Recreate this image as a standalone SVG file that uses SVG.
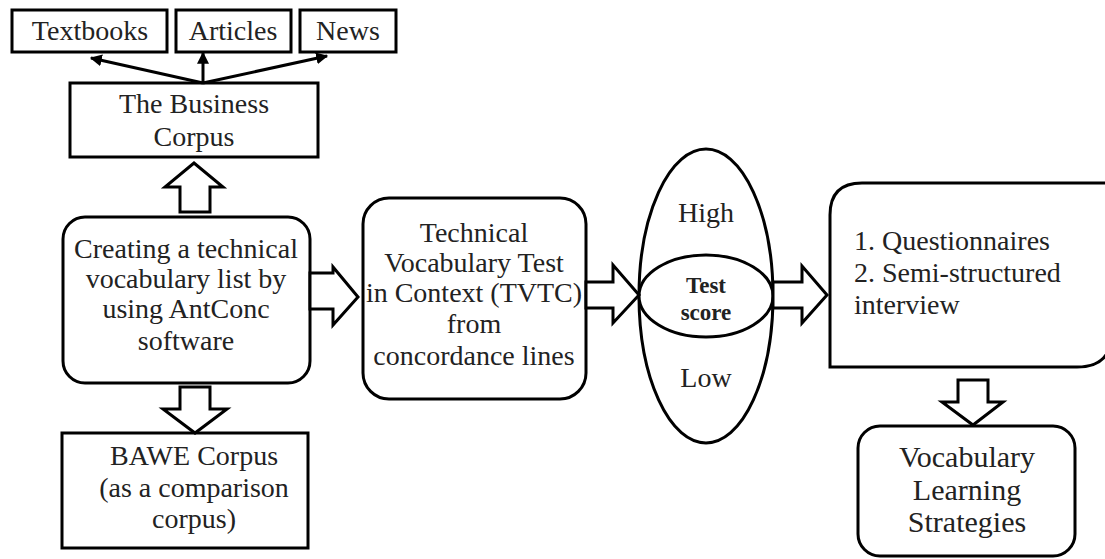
<svg xmlns="http://www.w3.org/2000/svg" width="1105" height="559" viewBox="0 0 1105 559">
<style>
.b{fill:#fff;stroke:#000;stroke-width:3}
text{font-family:'Liberation Serif','DejaVu Serif','Times New Roman',serif;font-size:28px;fill:#222;text-anchor:middle}
.l{text-anchor:start}
.bold{font-weight:bold;font-size:23px}
.big{font-size:30px}
.ln{stroke:#000;stroke-width:3;fill:none}
</style>
<defs>
<marker id="ah" viewBox="0 0 10 10" refX="9" refY="5" markerWidth="4" markerHeight="4" orient="auto" markerUnits="strokeWidth">
<path d="M0,0 L10,5 L0,10 z" fill="#000"/>
</marker>
</defs>
<g id="textbooks"><rect class="b" x="12" y="10" width="155" height="42"/><text x="90" y="40">Textbooks</text></g>
<g id="articles"><rect class="b" x="176" y="10" width="115" height="42"/><text x="233" y="40">Articles</text></g>
<g id="news"><rect class="b" x="300" y="10" width="96" height="42"/><text x="348" y="40">News</text></g>
<g id="business"><rect class="b" x="70" y="83" width="248" height="74"/><text x="194" y="113">The Business</text><text x="194" y="146">Corpus</text></g>
<g id="creating"><rect class="b" x="63" y="217" width="247" height="166" rx="22"/>
<text x="186" y="258">Creating a technical</text>
<text x="186" y="288">vocabulary list by</text>
<text x="186" y="318">using AntConc</text>
<text x="186" y="350">software</text></g>
<g id="bawe"><rect class="b" x="62" y="433" width="246" height="115"/>
<text x="194" y="465">BAWE Corpus</text>
<text x="194" y="497">(as a comparison</text>
<text x="194" y="528">corpus)</text></g>
<g id="tvtc"><rect class="b" x="363" y="198" width="223" height="201" rx="26"/>
<text x="474" y="242">Technical</text>
<text x="474" y="272">Vocabulary Test</text>
<text x="474" y="302">in Context (TVTC)</text>
<text x="474" y="333">from</text>
<text x="474" y="365">concordance lines</text></g>
<g id="score"><ellipse class="b" cx="706" cy="296" rx="67" ry="147"/>
<ellipse class="b" cx="706" cy="296" rx="67" ry="41"/>
<text x="706" y="222">High</text>
<text x="706" y="387">Low</text>
<text class="bold" x="706" y="293">Test</text>
<text class="bold" x="706" y="320">score</text></g>
<g id="methods"><path class="b" d="M830,367 L830,215 Q830,183 862,183 L1112,183 L1112,332 Q1112,367 1077,367 Z"/>
<text class="l" x="854" y="250">1. Questionnaires</text>
<text class="l" x="854" y="282">2. Semi-structured</text>
<text class="l" x="854" y="314">interview</text></g>
<g id="vls"><rect class="b" x="858" y="426" width="217" height="130" rx="22"/>
<text class="big" x="967" y="467">Vocabulary</text>
<text class="big" x="967" y="500">Learning</text>
<text class="big" x="967" y="532">Strategies</text></g>
<g id="connectors">
<line class="ln" x1="203" y1="83" x2="91" y2="58" marker-end="url(#ah)"/>
<line class="ln" x1="203" y1="83" x2="203" y2="53" marker-end="url(#ah)"/>
<line class="ln" x1="203" y1="83" x2="327" y2="56" marker-end="url(#ah)"/>
<polygon class="b" points="180,212 180,187 165,187 194,163 223,187 210,187 210,212"/>
<polygon class="b" points="180,387 210,387 210,409 227,409 195,433 163,409 180,409"/>
<polygon class="b" points="310,273 333,273 333,267 358,297 333,325 333,309 310,309"/>
<polygon class="b" points="586,282 613,282 613,265 639,295 613,323 613,308 586,308"/>
<polygon class="b" points="773,282 802,282 802,266 827,295 802,323 802,308 773,308"/>
<polygon class="b" points="958,380 988,380 988,402 1003,402 973,425 942,402 958,402"/>
</g>
</svg>
